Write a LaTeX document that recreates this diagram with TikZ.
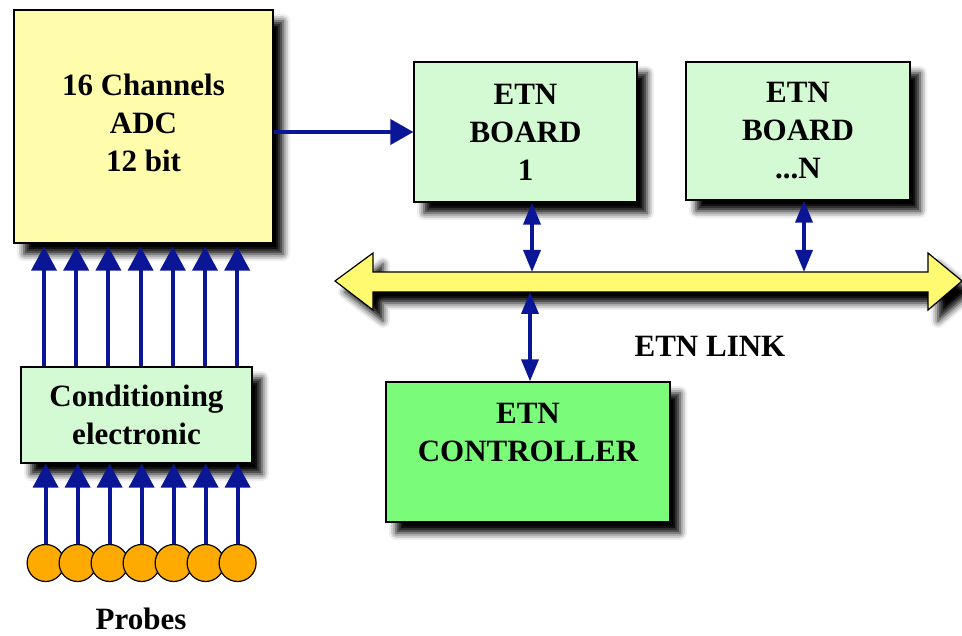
\documentclass[tikz,border=0pt]{standalone}
\usepackage{fontspec}
\setmainfont{Liberation Serif}
\usetikzlibrary{arrows.meta,shadows.blur,calc}
\definecolor{adcY}{RGB}{255,252,172}
\definecolor{boardG}{RGB}{212,250,212}
\definecolor{ctrlG}{RGB}{122,252,122}
\definecolor{busY}{RGB}{255,250,112}
\definecolor{probeO}{RGB}{255,170,0}
\definecolor{arrB}{RGB}{10,22,150}
\tikzset{
  shd/.style={blur shadow={shadow xshift=10pt, shadow yshift=-11pt, shadow blur radius=7pt, shadow opacity=100}},
  box/.style={draw=black, line width=1.3pt, align=center, inner sep=2pt,
    font=\fontsize{31}{38}\selectfont\bfseries, shd},
  bigarrow/.style={draw=arrB, line width=4pt, -{Triangle[length=24pt,width=25pt]}},
  linkarrow/.style={draw=arrB, line width=3.5pt, {Triangle[length=22pt,width=17pt]}-{Triangle[length=22pt,width=17pt]}},
  probe/.style={circle, draw=black, line width=1.2pt, fill=probeO, minimum size=37pt, inner sep=0pt},
  lbl/.style={font=\fontsize{31}{38}\selectfont\bfseries}
}
\begin{document}
\begin{tikzpicture}[x=1pt,y=-1pt]
\useasboundingbox (0,0) rectangle (962,636);
% bus
\path[draw=black, line width=1.2pt, fill=busY, shd]
  (335,281) -- (373,253) -- (373,272) -- (928,272) -- (928,253) -- (962,281)
  -- (928,310) -- (928,292) -- (373,292) -- (373,310) -- cycle;
% boxes
\node[box, fill=adcY, minimum width=259pt, minimum height=233pt] (adc) at (143.5,126.5) {16 Channels\\ADC\\12 bit\\[-41pt]\strut};
\node[box, fill=boardG, minimum width=223pt, minimum height=140pt] (board1) at (525.5,132) {ETN\\BOARD\\1};
\node[box, fill=boardG, minimum width=224pt, minimum height=138pt] (boardN) at (798,131) {ETN\\BOARD\\...N};
\node[box, fill=ctrlG, minimum width=284pt, minimum height=140pt] (ctrl) at (528,452) {ETN\\CONTROLLER\\[-10pt]\strut};
\node[box, fill=boardG, minimum width=231pt, minimum height=96pt] (cond) at (136.5,415) {Conditioning\\electronic};
% probes
\foreach \i in {0,...,6} {
  \node[probe] (p\i) at (45.6+32*\i, 563) {};
}
\foreach \i in {0,...,6} {
  \draw[bigarrow] (p\i.north) -- (cond.south -| p\i);
  \coordinate (t\i) at (44+32.2*\i, 0);
  \draw[bigarrow] (cond.north -| t\i) -- ([yshift=-3pt]adc.south -| t\i);
}
% ADC to board
\draw[bigarrow, -{Triangle[length=23pt,width=25pt]}] (adc.east |- board1.west) -- (board1.west);
% link arrows
\coordinate (b1) at (532,272);
\coordinate (bN) at (804,272);
\coordinate (bc) at (530,292);
\draw[linkarrow] (board1.south -| b1) -- (b1);
\draw[linkarrow] (boardN.south -| bN) -- (bN);
\draw[linkarrow] (bc) -- (ctrl.north -| bc);
% labels
\node[lbl] (link) at (710,346) {ETN LINK};
\node[lbl] (probes) at (141,619) {Probes};
\end{tikzpicture}
\end{document}
